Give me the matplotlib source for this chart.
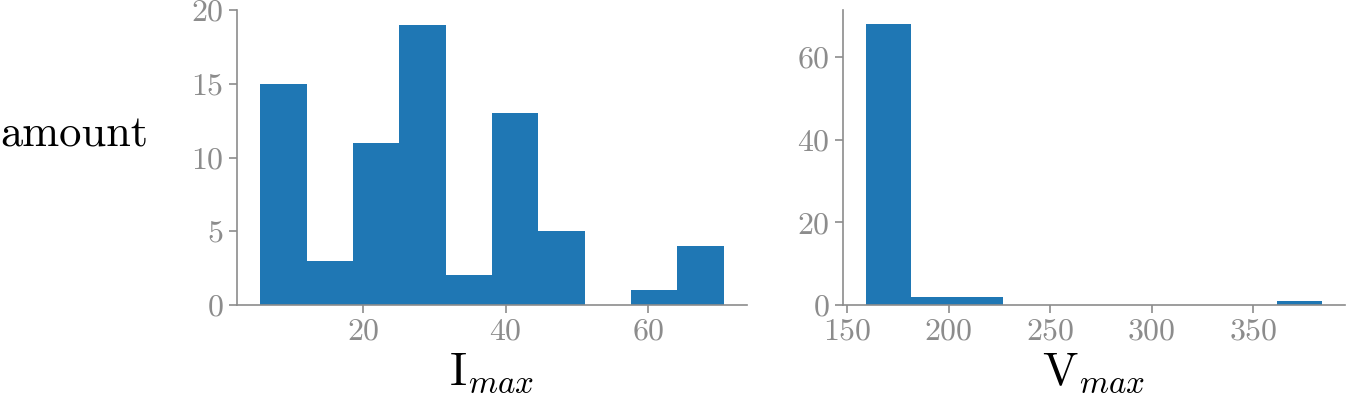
import numpy as np
import matplotlib as mpl
mpl.use("Agg")
import matplotlib.pyplot as plt

# histogram counts
i_edges = np.linspace(5.55, 70.6, 11)
i_counts = [15, 3, 11, 19, 2, 13, 5, 0, 1, 4]

v_edges = np.linspace(159.2, 384.0, 11)
v_counts = [68, 2, 2, 0, 0, 0, 0, 0, 0, 1]

plt.rcParams['font.family'] = 'cmr10'
plt.rcParams['mathtext.fontset'] = 'cm'
plt.rcParams['axes.formatter.use_mathtext'] = True
plt.rcParams['axes.unicode_minus'] = False

grey = '#8c8c8c'
blue = '#1f77b4'

fig = plt.figure(figsize=(13.51, 3.99), dpi=100)
ax1 = fig.add_axes([0.1754, 0.2356, 0.3775, 0.7393])
ax2 = fig.add_axes([0.624, 0.2356, 0.3716, 0.7393])

ax1.hist(i_edges[:-1], bins=i_edges, weights=i_counts, color=blue)
ax2.hist(v_edges[:-1], bins=v_edges, weights=v_counts, color=blue)

ax1.set_ylim(0, 20)
ax1.set_yticks([0, 5, 10, 15, 20])
ax1.set_xticks([20, 40, 60])
ax2.set_yticks([0, 20, 40, 60])
ax2.set_xticks([150, 200, 250, 300, 350])

ax1.set_xlabel(r'I$_{max}$', fontsize=34, color='black', labelpad=4)
ax2.set_xlabel(r'V$_{max}$', fontsize=34, color='black', labelpad=4)
ax1.set_ylabel('amount', fontsize=32, rotation=0, color='black',
               ha='left', va='baseline')
ax1.yaxis.set_label_coords(-0.465, 0.536)

for ax in (ax1, ax2):
    for s in ('top', 'right'):
        ax.spines[s].set_visible(False)
    for s in ('left', 'bottom'):
        ax.spines[s].set_color(grey)
        ax.spines[s].set_linewidth(1.2)
    ax.tick_params(colors=grey, labelcolor=grey, labelsize=23, length=6, width=1.2)

plt.savefig('out.png', dpi=100)
plt.close()
